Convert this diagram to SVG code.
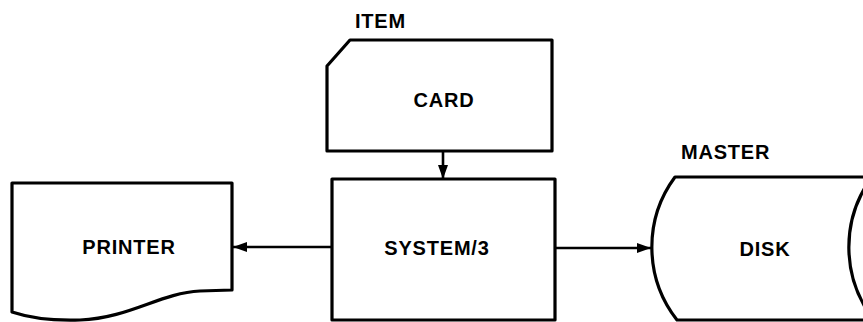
<svg xmlns="http://www.w3.org/2000/svg" width="863" height="322" viewBox="0 0 863 322">
<style>
.shape{fill:#fff;stroke:#000;stroke-width:3.2;stroke-linejoin:round}
.conn{fill:none;stroke:#000;stroke-width:2.6}
.lbl{font-family:"Liberation Sans",Arial,sans-serif;font-size:20px;font-weight:bold;fill:#000;letter-spacing:0.8px}
</style>
<defs>
<marker id="ah" markerUnits="userSpaceOnUse" markerWidth="14" markerHeight="10" refX="14" refY="5" orient="auto">
<path d="M0,0 L14,5 L0,10 Z" fill="#000"/>
</marker>
</defs>
<rect width="863" height="322" fill="#fff"/>
<g id="card">
<path class="shape" d="M327,66 L350,40 L552,40 L552,151 L327,151 Z"/>
<text class="lbl" x="355" y="28">ITEM</text>
<text class="lbl" x="444" y="107" text-anchor="middle">CARD</text>
</g>
<g id="system3">
<rect class="shape" x="332" y="179" width="223" height="141"/>
<text class="lbl" x="437" y="255" text-anchor="middle">SYSTEM/3</text>
</g>
<g id="printer">
<path class="shape" d="M12,183 L232,183 L232,290 L200,291 C160,293 130,318 80,320 C50,321 30,318 12,312 Z"/>
<text class="lbl" x="129" y="254" text-anchor="middle">PRINTER</text>
</g>
<g id="disk">
<path class="shape" d="M675,177 L875,177 L875,320 L677,320 A118 118 0 0 1 675,177 Z"/>
<path class="shape" fill="none" d="M872,177 A118 118 0 0 0 874,320"/>
<text class="lbl" x="681" y="159">MASTER</text>
<text class="lbl" x="765" y="256" text-anchor="middle">DISK</text>
</g>
<g id="connectors">
<line class="conn" x1="443" y1="152" x2="443" y2="179" marker-end="url(#ah)"/>
<line class="conn" x1="332" y1="247" x2="233" y2="247" marker-end="url(#ah)"/>
<line class="conn" x1="555" y1="248" x2="651" y2="248" marker-end="url(#ah)"/>
</g>
</svg>
